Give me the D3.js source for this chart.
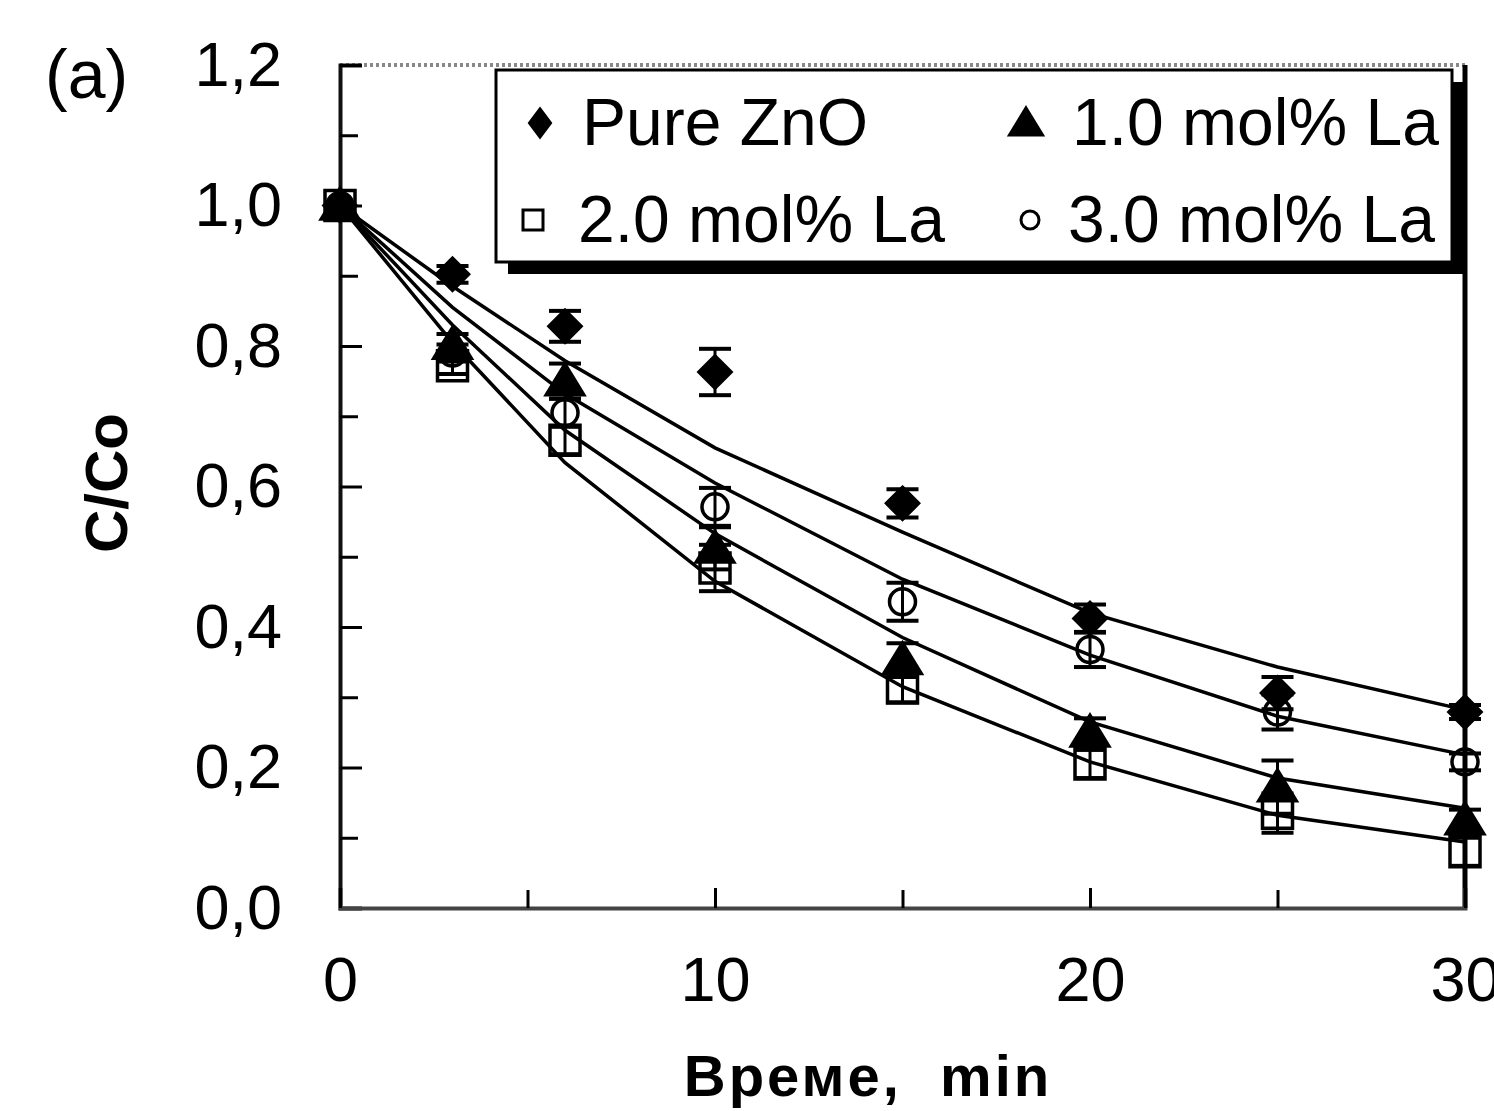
<!DOCTYPE html>
<html lang="en">
<head>
<meta charset="UTF-8">
<title>C/Co vs time</title>
<script src="https://cdn.jsdelivr.net/npm/d3@7"></script>
<style>
    body { margin: 0; background: #fff; }
    text { font-family: "Liberation Sans", Arial, sans-serif; fill: #000; }
    .tick-lbl { font-size: 63px; }
    .leg { font-size: 66px; }
</style>
</head>
<body>
<div id="chart"></div>
<script>
// sample times, min
var times = [0, 3, 6, 10, 15, 20, 25, 30];

// measured C/Co and error bars
var pureZnO   = [1.0, 0.902, 0.828, 0.763, 0.576, 0.412, 0.306, 0.279];
var pureZnOEr = [0, 0.012, 0.022, 0.033, 0.020, 0.020, 0.023, 0.010];
var la1       = [1.0, 0.802, 0.750, 0.512, 0.353, 0.250, 0.172, 0.125];
var la1Er     = [0, 0.015, 0.025, 0.030, 0.024, 0.020, 0.038, 0.015];
var la2       = [1.0, 0.772, 0.666, 0.484, 0.313, 0.205, 0.135, 0.080];
var la2Er     = [0, 0.012, 0.020, 0.033, 0.020, 0.020, 0.028, 0.020];
var la3       = [1.0, 0.790, 0.705, 0.571, 0.436, 0.368, 0.279, 0.208];
var la3Er     = [0, 0.012, 0.020, 0.027, 0.027, 0.025, 0.025, 0.012];

// fitted curves at the same times
var fitZnO = [1.0, 0.885, 0.779, 0.655, 0.535, 0.420, 0.343, 0.282];
var fitLa3 = [1.0, 0.855, 0.732, 0.605, 0.468, 0.360, 0.273, 0.218];
var fitLa1 = [1.0, 0.830, 0.680, 0.533, 0.385, 0.265, 0.185, 0.142];
var fitLa2 = [1.0, 0.805, 0.634, 0.465, 0.315, 0.208, 0.132, 0.094];

var seriesNames = ["Pure ZnO", "1.0 mol% La", "2.0 mol% La", "3.0 mol% La"];
var yTickVals = [0, 0.2, 0.4, 0.6, 0.8, 1.0, 1.2];
var yMinorVals = [0.1, 0.3, 0.5, 0.7, 0.9, 1.1];
var xTickVals = [0, 10, 20, 30];
var xMinorVals = [5, 15, 25];

const W = 1494, H = 1111;
const svg = d3.select("#chart").append("svg")
    .attr("width", W)
    .attr("height", H);

var x = d3.scaleLinear().domain([0, 30]).range([340, 1465]);
var y = d3.scaleLinear().domain([0, 1.2]).range([908, 65]);

var comma = function (d) { return d3.format(".1f")(d).replace(".", ","); };

// frame: top dotted, right heavy
svg.append("line")
    .attr("x1", x(0)).attr("x2", x(30))
    .attr("y1", y(1.2)).attr("y2", y(1.2))
    .attr("stroke", "#888").attr("stroke-width", 4)
    .attr("stroke-dasharray", "3,3");
svg.append("line")
    .attr("x1", x(30)).attr("x2", x(30))
    .attr("y1", y(1.2)).attr("y2", y(0))
    .attr("stroke", "#000").attr("stroke-width", 5);

// y axis (ticks inward, labels far left)
var yAxis = svg.append("g")
    .attr("transform", "translate(" + x(0) + ",0)")
    .call(d3.axisLeft(y).tickValues(yTickVals).tickSize(-22).tickPadding(58).tickFormat(comma));
yAxis.select(".domain").attr("stroke", "#111").attr("stroke-width", 4);
yAxis.selectAll(".tick line").attr("stroke", "#000").attr("stroke-width", 3);
yAxis.selectAll(".tick text").attr("class", "tick-lbl");
yAxis.attr("font-size", null).attr("font-family", null);

var yMinor = svg.append("g")
    .attr("transform", "translate(" + x(0) + ",0)")
    .call(d3.axisLeft(y).tickValues(yMinorVals).tickSize(-18).tickFormat(""));
yMinor.select(".domain").remove();
yMinor.selectAll(".tick line").attr("stroke", "#000").attr("stroke-width", 3);

// x axis
var xAxis = svg.append("g")
    .attr("transform", "translate(0," + y(0) + ")")
    .call(d3.axisBottom(x).tickValues(xTickVals).tickSize(-20).tickPadding(48).tickFormat(d3.format("d")));
xAxis.select(".domain").attr("stroke", "#444").attr("stroke-width", 4);
xAxis.selectAll(".tick line").attr("stroke", "#000").attr("stroke-width", 3);
xAxis.selectAll(".tick text").attr("class", "tick-lbl");
xAxis.attr("font-size", null).attr("font-family", null);

var xMinor = svg.append("g")
    .attr("transform", "translate(0," + y(0) + ")")
    .call(d3.axisBottom(x).tickValues(xMinorVals).tickSize(-18).tickFormat(""));
xMinor.select(".domain").remove();
xMinor.selectAll(".tick line").attr("stroke", "#000").attr("stroke-width", 3);

// fitted lines
var line = d3.line()
    .x(function (d) { return x(d[0]); })
    .y(function (d) { return y(d[1]); });
[fitZnO, fitLa3, fitLa1, fitLa2].forEach(function (f) {
    svg.append("path")
        .datum(times.map(function (t, i) { return [t, f[i]]; }))
        .attr("fill", "none")
        .attr("stroke", "#000")
        .attr("stroke-width", 3.5)
        .attr("d", line);
});

// marker shapes
function diamond(s, r) { r = r || 1; return "M0," + (-s) + "L" + (s * r) + ",0L0," + s + "L" + (-s * r) + ",0Z"; }
function triangle(s) { return "M0," + (-s) + "L" + (s * 1.1) + "," + (s * 0.8) + "L" + (-s * 1.1) + "," + (s * 0.8) + "Z"; }
function square(s) { return "M" + (-s) + "," + (-s) + "H" + s + "V" + s + "H" + (-s) + "Z"; }
function circle(s) { return "M" + (-s) + ",0A" + s + "," + s + " 0 1,0 " + s + ",0A" + s + "," + s + " 0 1,0 " + (-s) + ",0Z"; }

var series = [
    {vals: la2, err: la2Er, shape: square, size: 15, filled: false},
    {vals: la3, err: la3Er, shape: circle, size: 13, filled: false},
    {vals: la1, err: la1Er, shape: triangle, size: 17, filled: true},
    {vals: pureZnO, err: pureZnOEr, shape: diamond, size: 16, filled: true}
];

series.forEach(function (s) {
    var pts = times.map(function (t, i) { return {t: t, v: s.vals[i], e: s.err[i]}; });
    var g = svg.append("g");
    var eb = g.selectAll("g.eb").data(pts.filter(function (d) { return d.e > 0; })).enter().append("g");
    eb.append("line")
        .attr("x1", function (d) { return x(d.t); })
        .attr("x2", function (d) { return x(d.t); })
        .attr("y1", function (d) { return y(d.v + d.e); })
        .attr("y2", function (d) { return y(d.v - d.e); })
        .attr("stroke", "#000").attr("stroke-width", 3);
    [1, -1].forEach(function (sg) {
        eb.append("line")
            .attr("x1", function (d) { return x(d.t) - 16; })
            .attr("x2", function (d) { return x(d.t) + 16; })
            .attr("y1", function (d) { return y(d.v + sg * d.e); })
            .attr("y2", function (d) { return y(d.v + sg * d.e); })
            .attr("stroke", "#000").attr("stroke-width", 4);
    });
    g.selectAll("path.m").data(pts).enter().append("path")
        .attr("transform", function (d) { return "translate(" + x(d.t) + "," + y(d.v) + ")"; })
        .attr("d", s.shape(s.size))
        .attr("fill", s.filled ? "#000" : "none")
        .attr("stroke", "#000")
        .attr("stroke-width", 3.5);
});

// legend box with drop shadow
svg.append("rect").attr("x", 508).attr("y", 82).attr("width", 956).attr("height", 192).attr("fill", "#000");
svg.append("rect").attr("x", 496).attr("y", 70).attr("width", 956).attr("height", 192)
    .attr("fill", "#fff").attr("stroke", "#000").attr("stroke-width", 3);

var legItems = [
    {name: seriesNames[0], path: diamond(14, 0.75), filled: true, mx: 540, tx: 582, by: 145},
    {name: seriesNames[1], path: triangle(15), filled: true, mx: 1026, tx: 1072, by: 145},
    {name: seriesNames[2], path: square(10), filled: false, mx: 533, tx: 578, by: 242},
    {name: seriesNames[3], path: circle(9), filled: false, mx: 1030, tx: 1068, by: 242}
];
legItems.forEach(function (d) {
    svg.append("path")
        .attr("transform", "translate(" + d.mx + "," + (d.by - 22) + ")")
        .attr("d", d.path)
        .attr("fill", d.filled ? "#000" : "none")
        .attr("stroke", "#000").attr("stroke-width", 3);
    svg.append("text").attr("class", "leg").attr("x", d.tx).attr("y", d.by).text(d.name);
});

// panel tag and axis titles
svg.append("text").attr("x", 45).attr("y", 98).style("font-size", "68px").text("(a)");
svg.append("text")
    .attr("transform", "translate(127,483) rotate(-90)")
    .attr("text-anchor", "middle")
    .style("font-size", "60px").style("font-weight", "bold")
    .text("C/Co");
svg.append("text")
    .attr("x", 868).attr("y", 1096)
    .attr("text-anchor", "middle")
    .style("font-size", "58px").style("font-weight", "bold")
    .style("letter-spacing", "3px").style("white-space", "pre")
    .text("Време,  min");
</script>
</body>
</html>
